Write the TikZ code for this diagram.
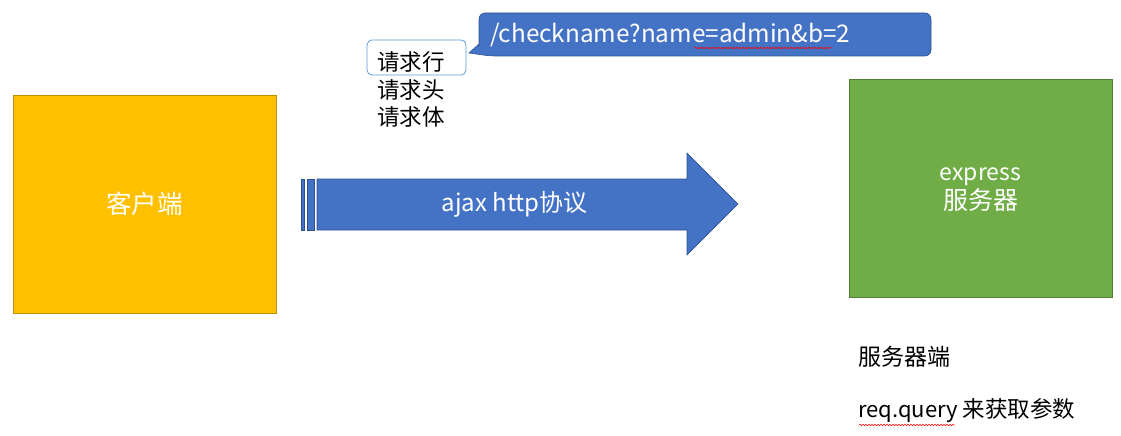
\documentclass[tikz,border=0pt]{standalone}
\usepackage{fontspec}
\setmainfont{Noto Sans CJK SC}
\usetikzlibrary{decorations.pathmorphing}
\definecolor{cyellow}{HTML}{FFC000}
\definecolor{cyellowd}{HTML}{BF9000}
\definecolor{cgreen}{HTML}{70AD47}
\definecolor{cgreend}{HTML}{507E32}
\definecolor{cblue}{HTML}{4472C4}
\definecolor{cblued}{HTML}{2F528F}
\definecolor{clight}{HTML}{5B9BD5}
\tikzset{
  box/.style={draw, line width=0.8pt, inner sep=0pt},
  wtxt/.style={text=white, inner sep=0pt},
  btxt/.style={text=black, inner sep=0pt, anchor=west},
  squig/.style={draw=red, line width=0.5pt, decorate, decoration={snake, amplitude=0.8pt, segment length=3pt}}
}
\begin{document}
\begin{tikzpicture}[x=1pt,y=-1pt]
\useasboundingbox (0,0) rectangle (1121,436);
% client
\draw[box, fill=cyellow, draw=cyellowd] (13,95) rectangle (276,313);
\node[wtxt, font=\fontsize{25.5}{30}\selectfont] (client) at (144.5,204) {客户端};
% server
\draw[box, fill=cgreen, draw=cgreend] (849,79) rectangle (1112,297);
\node[wtxt, font=\fontsize{23}{29}\selectfont, align=center] (server) at (980.5,190) {express\\{\fontsize{25}{29}\selectfont 服务器}};
% arrow
\fill[cblue, draw=cblued, line width=0.6pt] (301,179) rectangle (304,230);
\fill[cblue, draw=cblued, line width=0.6pt] (307,179) rectangle (314,230);
\draw[fill=cblue, draw=cblued, line width=0.6pt] (317,179) -- (687,179) -- (687,153) -- (738,204) -- (687,255) -- (687,230) -- (317,230) -- cycle;
\node[wtxt, font=\fontsize{24}{28}\selectfont] (proto) at (514.5,204) {ajax http协议};
% callout
\draw[fill=cblue, draw=cblued, line width=0.6pt, rounded corners=6pt]
  (479,40) -- (479,13) -- (931,13) -- (931,56) -- (490,56) [sharp corners] -- (469,53) -- (479,44) [rounded corners=6pt] -- cycle;
\node[wtxt, anchor=west, font=\fontsize{24.3}{28}\selectfont] (url) at (490,35) {/checkname?name=admin\&b=2};
\draw[squig] (694,48) -- (832,48);
% request box
\draw[draw=clight, line width=0.8pt, fill=white, rounded corners=5pt] (367,40) rectangle (466,75);
\node[btxt, font=\fontsize{22.5}{26}\selectfont] (line) at (377,62) {请求行};
\node[btxt, font=\fontsize{22.5}{26}\selectfont] (head) at (377,90) {请求头};
\node[btxt, font=\fontsize{22.5}{26}\selectfont] (body) at (377,117) {请求体};
% bottom texts
\node[btxt, font=\fontsize{23}{26}\selectfont] (srv) at (858,357) {服务器端};
\node[btxt, font=\fontsize{22}{26}\selectfont] (rq) at (858,411) {req.query {\fontsize{22.5}{26}\selectfont 来获取参数}};
\draw[squig] (859,425) -- (955,425);
\end{tikzpicture}
\end{document}
